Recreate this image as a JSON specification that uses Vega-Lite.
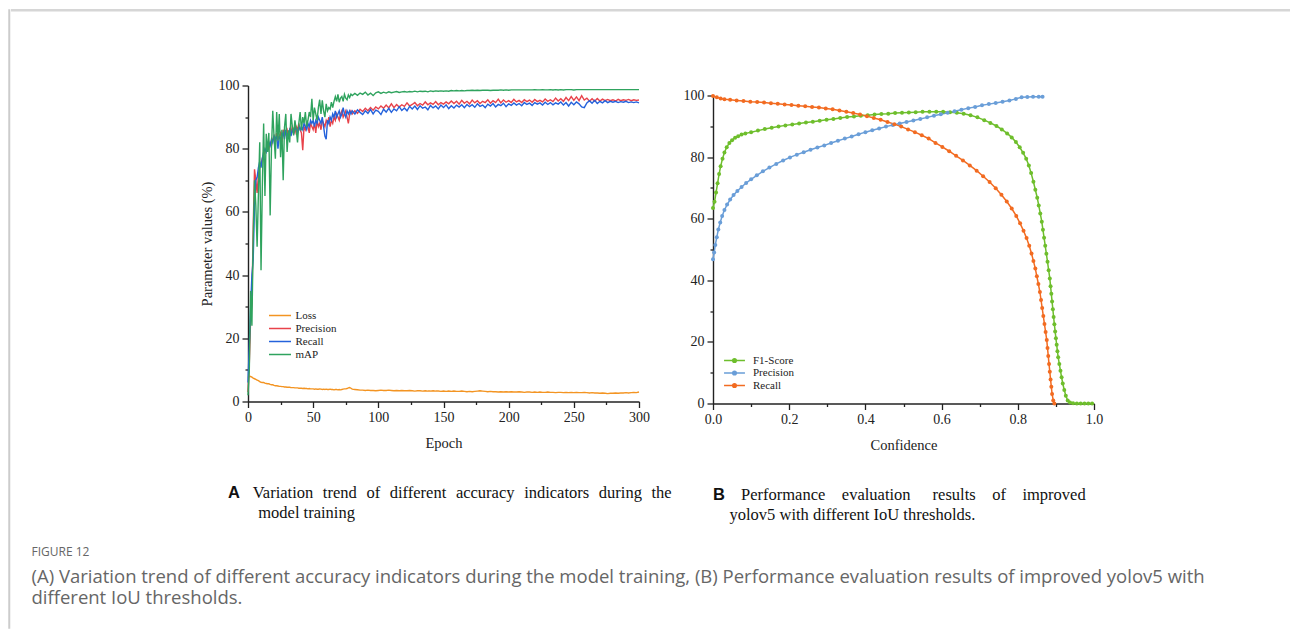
{
"$schema":"https://vega.github.io/schema/vega-lite/v6.json",
"background":"white",
"padding":{"left":8,"top":9,"right":0,"bottom":0},
"spacing":0,
"resolve":{"scale":{"color":"independent"},"legend":{"color":"independent"}},
"config":{
 "view":{"stroke":null},
 "axis":{"grid":false,"labelFlush":false,"labelFont":"Liberation Serif","titleFont":"Liberation Serif","labelFontSize":14,"titleFontSize":14.5,"titleFontWeight":"normal","labelColor":"#222","titleColor":"#222","domainColor":"#222","tickColor":"#222","domainWidth":1.4,"tickWidth":1.3,"labelPadding":3},
 "legend":{"padding":0,"labelFont":"Liberation Serif","labelFontSize":11,"labelColor":"#222","rowPadding":1}
},
"hconcat":[
{"width":0.5,"height":618,"view":{"stroke":"#cccccc","strokeWidth":1.5},"data":{"values":[]},"mark":"point","encoding":{}},
{
"spacing":66.5,
"resolve":{"scale":{"color":"independent"},"legend":{"color":"independent"}},
"vconcat":[
{"width":1277,"height":0.5,"view":{"stroke":"#d6d6d6","strokeWidth":2},"data":{"values":[]},"mark":"point","encoding":{}},
{
"spacing":11,
"resolve":{"scale":{"color":"independent"},"legend":{"color":"independent"}},
"title":{"text":"FIGURE 12","subtitle":["(A) Variation trend of different accuracy indicators during the model training, (B) Performance evaluation results of improved yolov5 with","different IoU thresholds."],"orient":"bottom","anchor":"start","frame":"bounds","dx":20,"offset":23,"font":"Open Sans","fontSize":12,"fontWeight":"normal","color":"#666","subtitleFont":"Open Sans","subtitleFontSize":18.5,"subtitleColor":"#666","subtitleLineHeight":21,"subtitlePadding":9},
"hconcat":[
{"width":175,"height":1,"view":{"stroke":"transparent"},"data":{"values":[]},"mark":"point","encoding":{}},
{
 "width":391,"height":316,
 "title":{"text":"A","subtitle":["\u200b\u2003\u2002Variation\u00a0\u2004trend\u00a0\u2004of\u00a0\u2004different\u00a0\u2004accuracy\u00a0\u2004indicators\u00a0\u2004during\u00a0\u2004the","\u200b\u2003\u2002\u2004model training"],"orient":"bottom","anchor":"start","frame":"group","dx":-20,"offset":35,"font":"Liberation Sans","fontSize":16.5,"fontWeight":"bold","color":"#111","subtitleFont":"Liberation Serif","subtitleFontSize":16.5,"subtitleColor":"#111","subtitleLineHeight":20,"subtitlePadding":-16.5},
 "data":{"values":[
{"e":0,"Loss":7.6,"Precision":3,"Recall":6,"mAP":2},
{"e":1,"Loss":8.0,"Precision":12,"Recall":18,"mAP":10},
{"e":2,"Loss":7.9,"Precision":26,"Recall":30,"mAP":35},
{"e":3,"Loss":7.7,"Precision":31,"Recall":40,"mAP":24},
{"e":4,"Loss":7.4,"Precision":55,"Recall":45,"mAP":52},
{"e":5,"Loss":7.2,"Precision":73.5,"Recall":62,"mAP":70},
{"e":6,"Loss":7.0,"Precision":70,"Recall":70,"mAP":62},
{"e":7,"Loss":6.8,"Precision":66,"Recall":71,"mAP":49},
{"e":8,"Loss":6.6,"Precision":72,"Recall":74,"mAP":66},
{"e":9,"Loss":6.3,"Precision":74,"Recall":76,"mAP":82},
{"e":10,"Loss":6.1,"Precision":75,"Recall":74,"mAP":41.5},
{"e":11,"Loss":6.0,"Precision":77,"Recall":77,"mAP":68},
{"e":12,"Loss":6.0,"Precision":78,"Recall":79,"mAP":88},
{"e":13,"Loss":5.8,"Precision":79,"Recall":80,"mAP":65},
{"e":14,"Loss":5.7,"Precision":80,"Recall":79,"mAP":84.7},
{"e":15,"Loss":5.6,"Precision":81,"Recall":81,"mAP":79},
{"e":16,"Loss":5.6,"Precision":80,"Recall":82,"mAP":85},
{"e":17,"Loss":5.4,"Precision":82,"Recall":81,"mAP":58.9},
{"e":18,"Loss":5.3,"Precision":81,"Recall":83,"mAP":80},
{"e":19,"Loss":5.3,"Precision":83,"Recall":82,"mAP":92},
{"e":20,"Loss":5.1,"Precision":84,"Recall":84,"mAP":83.6},
{"e":21,"Loss":5.0,"Precision":82,"Recall":83,"mAP":76.8},
{"e":22,"Loss":5.0,"Precision":85,"Recall":84,"mAP":91.6},
{"e":23,"Loss":4.9,"Precision":83,"Recall":80,"mAP":82.6},
{"e":24,"Loss":4.8,"Precision":84,"Recall":84,"mAP":91},
{"e":25,"Loss":4.8,"Precision":85,"Recall":83,"mAP":77.3},
{"e":26,"Loss":4.7,"Precision":82,"Recall":84,"mAP":86},
{"e":27,"Loss":4.7,"Precision":86,"Recall":85,"mAP":70},
{"e":28,"Loss":4.6,"Precision":84,"Recall":83,"mAP":86.8},
{"e":29,"Loss":4.6,"Precision":85,"Recall":86,"mAP":91},
{"e":30,"Loss":4.5,"Precision":86,"Recall":84,"mAP":79},
{"e":31,"Loss":4.5,"Precision":84,"Recall":85,"mAP":85.8},
{"e":32,"Loss":4.5,"Precision":86,"Recall":86,"mAP":82},
{"e":33,"Loss":4.4,"Precision":85,"Recall":84,"mAP":91},
{"e":34,"Loss":4.4,"Precision":87,"Recall":86,"mAP":87},
{"e":35,"Loss":4.4,"Precision":86,"Recall":85,"mAP":84.2},
{"e":36,"Loss":4.3,"Precision":85,"Recall":87,"mAP":89},
{"e":37,"Loss":4.3,"Precision":87,"Recall":86,"mAP":86},
{"e":38,"Loss":4.3,"Precision":86,"Recall":85,"mAP":82},
{"e":39,"Loss":4.2,"Precision":88,"Recall":87,"mAP":88},
{"e":40,"Loss":4.2,"Precision":86,"Recall":86,"mAP":91.6},
{"e":41,"Loss":4.2,"Precision":85,"Recall":87,"mAP":85.8},
{"e":42,"Loss":4.1,"Precision":79.5,"Recall":86,"mAP":90},
{"e":43,"Loss":4.2,"Precision":87,"Recall":88,"mAP":88},
{"e":44,"Loss":4.1,"Precision":86,"Recall":87,"mAP":91.6},
{"e":45,"Loss":4.1,"Precision":88,"Recall":86,"mAP":87},
{"e":46,"Loss":4.0,"Precision":87,"Recall":88,"mAP":89},
{"e":47,"Loss":4.1,"Precision":85,"Recall":87,"mAP":91.6},
{"e":48,"Loss":4.0,"Precision":88,"Recall":89,"mAP":90},
{"e":49,"Loss":4.0,"Precision":87,"Recall":88,"mAP":95.8},
{"e":50,"Loss":4.0,"Precision":86,"Recall":89,"mAP":89},
{"e":51,"Loss":3.9,"Precision":88,"Recall":87,"mAP":93},
{"e":52,"Loss":4.0,"Precision":85,"Recall":89,"mAP":91},
{"e":53,"Loss":3.9,"Precision":89,"Recall":88,"mAP":89},
{"e":54,"Loss":3.9,"Precision":87,"Recall":90,"mAP":93},
{"e":55,"Loss":4.0,"Precision":88,"Recall":89,"mAP":95.5},
{"e":56,"Loss":3.9,"Precision":86,"Recall":88,"mAP":91},
{"e":57,"Loss":3.8,"Precision":89,"Recall":90,"mAP":95.3},
{"e":58,"Loss":3.9,"Precision":88,"Recall":87,"mAP":92},
{"e":59,"Loss":3.8,"Precision":87,"Recall":84,"mAP":90},
{"e":60,"Loss":3.9,"Precision":89,"Recall":83,"mAP":94.2},
{"e":61,"Loss":3.8,"Precision":88,"Recall":89,"mAP":92},
{"e":62,"Loss":3.8,"Precision":90,"Recall":88,"mAP":93},
{"e":63,"Loss":3.9,"Precision":87,"Recall":90,"mAP":92.5},
{"e":64,"Loss":3.8,"Precision":89,"Recall":89,"mAP":94.7},
{"e":65,"Loss":3.8,"Precision":88,"Recall":91,"mAP":93},
{"e":66,"Loss":3.7,"Precision":90,"Recall":90,"mAP":95},
{"e":67,"Loss":3.8,"Precision":89,"Recall":92,"mAP":96.5},
{"e":68,"Loss":3.8,"Precision":91,"Recall":90,"mAP":95},
{"e":69,"Loss":3.7,"Precision":90,"Recall":91,"mAP":97.2},
{"e":70,"Loss":3.8,"Precision":89,"Recall":92,"mAP":94.7},
{"e":71,"Loss":3.7,"Precision":91,"Recall":90,"mAP":96},
{"e":72,"Loss":3.8,"Precision":92,"Recall":91,"mAP":96.5},
{"e":73,"Loss":3.9,"Precision":90,"Recall":93,"mAP":95},
{"e":74,"Loss":4.0,"Precision":91,"Recall":91,"mAP":97.2},
{"e":75,"Loss":4.0,"Precision":92,"Recall":90,"mAP":96},
{"e":76,"Loss":4.1,"Precision":90,"Recall":92,"mAP":95.5},
{"e":77,"Loss":4.3,"Precision":88,"Recall":91,"mAP":97},
{"e":78,"Loss":4.4,"Precision":91,"Recall":92,"mAP":96.2},
{"e":79,"Loss":4.2,"Precision":92,"Recall":91,"mAP":97.3},
{"e":80,"Loss":3.9,"Precision":91,"Recall":92,"mAP":96.8},
{"e":82,"Loss":3.8,"Precision":92.0,"Recall":91.0,"mAP":97.5},
{"e":84,"Loss":3.7,"Precision":91.2,"Recall":92.3,"mAP":96.9},
{"e":86,"Loss":3.6,"Precision":92.5,"Recall":91.5,"mAP":97.6},
{"e":88,"Loss":3.6,"Precision":91.8,"Recall":90.8,"mAP":97.2},
{"e":90,"Loss":3.5,"Precision":92.8,"Recall":92.0,"mAP":97.9},
{"e":92,"Loss":3.6,"Precision":92.0,"Recall":91.2,"mAP":97.0},
{"e":94,"Loss":3.5,"Precision":93.0,"Recall":92.4,"mAP":97.6},
{"e":96,"Loss":3.5,"Precision":92.2,"Recall":91.0,"mAP":96.8},
{"e":98,"Loss":3.4,"Precision":93.2,"Recall":92.2,"mAP":97.7},
{"e":100,"Loss":3.5,"Precision":92.6,"Recall":91.8,"mAP":98.0},
{"e":102,"Loss":3.6,"Precision":93.5,"Recall":90.8,"mAP":97.5},
{"e":104,"Loss":3.5,"Precision":92.8,"Recall":92.5,"mAP":97.9},
{"e":106,"Loss":3.5,"Precision":93.8,"Recall":91.6,"mAP":97.6},
{"e":108,"Loss":3.6,"Precision":92.9,"Recall":92.8,"mAP":98.0},
{"e":110,"Loss":3.5,"Precision":94.2,"Recall":91.5,"mAP":97.7},
{"e":112,"Loss":3.4,"Precision":93.0,"Recall":92.6,"mAP":97.9},
{"e":114,"Loss":3.5,"Precision":94.0,"Recall":92.0,"mAP":98.1},
{"e":116,"Loss":3.4,"Precision":93.2,"Recall":93.3,"mAP":97.8},
{"e":118,"Loss":3.5,"Precision":93.9,"Recall":92.1,"mAP":98.0},
{"e":120,"Loss":3.4,"Precision":93.4,"Recall":92.9,"mAP":98.1},
{"e":122,"Loss":3.4,"Precision":94.5,"Recall":92.0,"mAP":97.9},
{"e":124,"Loss":3.5,"Precision":93.5,"Recall":93.4,"mAP":98.1},
{"e":126,"Loss":3.4,"Precision":94.0,"Recall":92.6,"mAP":98.0},
{"e":128,"Loss":3.3,"Precision":94.6,"Recall":93.5,"mAP":98.2},
{"e":130,"Loss":3.4,"Precision":93.6,"Recall":92.4,"mAP":98.0},
{"e":132,"Loss":3.4,"Precision":94.3,"Recall":93.6,"mAP":98.2},
{"e":134,"Loss":3.3,"Precision":93.8,"Recall":92.8,"mAP":98.1},
{"e":136,"Loss":3.4,"Precision":94.8,"Recall":93.2,"mAP":98.2},
{"e":138,"Loss":3.3,"Precision":93.9,"Recall":92.3,"mAP":98.0},
{"e":140,"Loss":3.3,"Precision":94.5,"Recall":93.7,"mAP":98.3},
{"e":142,"Loss":3.4,"Precision":94.0,"Recall":92.9,"mAP":98.1},
{"e":144,"Loss":3.3,"Precision":94.9,"Recall":93.5,"mAP":98.3},
{"e":146,"Loss":3.3,"Precision":93.9,"Recall":92.6,"mAP":98.2},
{"e":148,"Loss":3.2,"Precision":94.6,"Recall":93.8,"mAP":98.3},
{"e":150,"Loss":3.3,"Precision":94.1,"Recall":93.0,"mAP":98.2},
{"e":152,"Loss":3.2,"Precision":94.8,"Recall":93.9,"mAP":98.3},
{"e":154,"Loss":3.3,"Precision":94.2,"Recall":92.7,"mAP":98.2},
{"e":156,"Loss":3.2,"Precision":95.1,"Recall":93.6,"mAP":98.4},
{"e":158,"Loss":3.3,"Precision":94.3,"Recall":92.9,"mAP":98.3},
{"e":160,"Loss":3.2,"Precision":95.0,"Recall":93.8,"mAP":98.4},
{"e":162,"Loss":3.2,"Precision":94.1,"Recall":93.2,"mAP":98.3},
{"e":164,"Loss":3.3,"Precision":95.3,"Recall":93.9,"mAP":98.4},
{"e":166,"Loss":3.2,"Precision":94.4,"Recall":93.0,"mAP":98.3},
{"e":168,"Loss":3.1,"Precision":95.0,"Recall":94.0,"mAP":98.4},
{"e":170,"Loss":3.2,"Precision":94.2,"Recall":93.3,"mAP":98.4},
{"e":172,"Loss":3.1,"Precision":95.4,"Recall":93.9,"mAP":98.5},
{"e":174,"Loss":3.2,"Precision":94.5,"Recall":93.1,"mAP":98.4},
{"e":176,"Loss":3.3,"Precision":95.2,"Recall":94.2,"mAP":98.5},
{"e":178,"Loss":3.4,"Precision":94.3,"Recall":93.4,"mAP":98.4},
{"e":180,"Loss":3.3,"Precision":95.0,"Recall":93.8,"mAP":98.5},
{"e":182,"Loss":3.2,"Precision":94.6,"Recall":93.0,"mAP":98.5},
{"e":184,"Loss":3.1,"Precision":95.5,"Recall":94.1,"mAP":98.5},
{"e":186,"Loss":3.2,"Precision":94.4,"Recall":93.5,"mAP":98.4},
{"e":188,"Loss":3.1,"Precision":95.2,"Recall":94.3,"mAP":98.5},
{"e":190,"Loss":3.1,"Precision":94.6,"Recall":93.2,"mAP":98.5},
{"e":192,"Loss":3.0,"Precision":95.7,"Recall":94.0,"mAP":98.5},
{"e":194,"Loss":3.1,"Precision":94.5,"Recall":93.6,"mAP":98.6},
{"e":196,"Loss":3.0,"Precision":95.4,"Recall":94.4,"mAP":98.5},
{"e":198,"Loss":3.1,"Precision":94.7,"Recall":93.3,"mAP":98.6},
{"e":200,"Loss":3.0,"Precision":95.2,"Recall":94.2,"mAP":98.5},
{"e":202,"Loss":3.1,"Precision":94.6,"Recall":93.7,"mAP":98.6},
{"e":204,"Loss":3.0,"Precision":95.6,"Recall":94.5,"mAP":98.6},
{"e":206,"Loss":3.0,"Precision":94.8,"Recall":93.8,"mAP":98.6},
{"e":208,"Loss":3.1,"Precision":95.3,"Recall":94.3,"mAP":98.6},
{"e":210,"Loss":3.0,"Precision":94.6,"Recall":93.6,"mAP":98.6},
{"e":212,"Loss":2.9,"Precision":95.5,"Recall":94.6,"mAP":98.6},
{"e":214,"Loss":3.0,"Precision":94.9,"Recall":94.0,"mAP":98.6},
{"e":216,"Loss":3.0,"Precision":95.4,"Recall":94.4,"mAP":98.6},
{"e":218,"Loss":2.9,"Precision":94.7,"Recall":93.7,"mAP":98.6},
{"e":220,"Loss":3.0,"Precision":95.6,"Recall":94.6,"mAP":98.7},
{"e":222,"Loss":2.9,"Precision":94.9,"Recall":94.1,"mAP":98.6},
{"e":224,"Loss":3.0,"Precision":95.3,"Recall":94.5,"mAP":98.6},
{"e":226,"Loss":2.9,"Precision":94.8,"Recall":93.8,"mAP":98.7},
{"e":228,"Loss":2.9,"Precision":95.7,"Recall":94.7,"mAP":98.6},
{"e":230,"Loss":3.0,"Precision":95.0,"Recall":94.0,"mAP":98.6},
{"e":232,"Loss":2.9,"Precision":95.5,"Recall":94.6,"mAP":98.7},
{"e":234,"Loss":2.9,"Precision":94.9,"Recall":93.9,"mAP":98.6},
{"e":236,"Loss":2.8,"Precision":96.0,"Recall":94.5,"mAP":98.7},
{"e":238,"Loss":2.9,"Precision":95.1,"Recall":94.1,"mAP":98.6},
{"e":240,"Loss":2.9,"Precision":95.8,"Recall":94.8,"mAP":98.7},
{"e":242,"Loss":2.8,"Precision":95.0,"Recall":93.8,"mAP":98.6},
{"e":244,"Loss":2.9,"Precision":96.2,"Recall":94.6,"mAP":98.7},
{"e":246,"Loss":2.8,"Precision":95.2,"Recall":93.5,"mAP":98.7},
{"e":248,"Loss":2.9,"Precision":96.5,"Recall":94.7,"mAP":98.7},
{"e":250,"Loss":2.8,"Precision":95.3,"Recall":93.9,"mAP":98.6},
{"e":252,"Loss":2.9,"Precision":96.4,"Recall":94.8,"mAP":98.7},
{"e":254,"Loss":2.8,"Precision":95.2,"Recall":94.2,"mAP":98.7},
{"e":256,"Loss":2.8,"Precision":96.8,"Recall":93.2,"mAP":98.7},
{"e":258,"Loss":2.9,"Precision":95.4,"Recall":93.0,"mAP":98.7},
{"e":260,"Loss":2.8,"Precision":96.0,"Recall":94.5,"mAP":98.7},
{"e":262,"Loss":2.7,"Precision":95.0,"Recall":95.2,"mAP":98.7},
{"e":264,"Loss":2.8,"Precision":95.8,"Recall":94.4,"mAP":98.7},
{"e":266,"Loss":2.7,"Precision":95.0,"Recall":95.3,"mAP":98.7},
{"e":268,"Loss":2.7,"Precision":95.9,"Recall":94.3,"mAP":98.7},
{"e":270,"Loss":2.6,"Precision":95.1,"Recall":95.0,"mAP":98.7},
{"e":272,"Loss":2.7,"Precision":95.7,"Recall":94.5,"mAP":98.7},
{"e":274,"Loss":2.6,"Precision":95.2,"Recall":95.2,"mAP":98.7},
{"e":276,"Loss":2.5,"Precision":95.6,"Recall":94.6,"mAP":98.7},
{"e":278,"Loss":2.6,"Precision":95.2,"Recall":95.0,"mAP":98.7},
{"e":280,"Loss":2.6,"Precision":95.5,"Recall":94.7,"mAP":98.7},
{"e":282,"Loss":2.7,"Precision":95.1,"Recall":95.0,"mAP":98.7},
{"e":284,"Loss":2.6,"Precision":95.6,"Recall":94.6,"mAP":98.7},
{"e":286,"Loss":2.7,"Precision":95.2,"Recall":94.9,"mAP":98.7},
{"e":288,"Loss":2.7,"Precision":95.5,"Recall":94.7,"mAP":98.7},
{"e":290,"Loss":2.8,"Precision":95.3,"Recall":95.0,"mAP":98.7},
{"e":292,"Loss":2.7,"Precision":95.6,"Recall":94.6,"mAP":98.7},
{"e":294,"Loss":2.8,"Precision":95.2,"Recall":94.8,"mAP":98.7},
{"e":296,"Loss":2.9,"Precision":95.5,"Recall":94.6,"mAP":98.7},
{"e":298,"Loss":2.8,"Precision":95.3,"Recall":94.8,"mAP":98.7},
{"e":300,"Loss":3.0,"Precision":95.4,"Recall":94.5,"mAP":98.7}
 ]},
 "transform":[{"fold":["Loss","Precision","Recall","mAP"],"as":["s","v"]}],
 "mark":{"type":"line","strokeWidth":1.4},
 "encoding":{
  "x":{"field":"e","type":"quantitative","scale":{"domain":[0,300],"nice":false},"axis":{"title":"Epoch","values":[0,25,50,75,100,125,150,175,200,225,250,275,300],"labelExpr":"datum.value % 50 === 0 ? datum.label : ''","tickSize":{"condition":{"test":"datum.value % 50 === 0","value":6},"value":3},"titlePadding":12}},
  "y":{"field":"v","type":"quantitative","scale":{"domain":[0,100],"nice":false},"axis":{"title":"Parameter values (%)","values":[0,10,20,30,40,50,60,70,80,90,100],"labelExpr":"datum.value % 20 === 0 ? datum.label : ''","tickSize":{"condition":{"test":"datum.value % 20 === 0","value":6},"value":3},"titlePadding":4}},
  "color":{"field":"s","type":"nominal","scale":{"domain":["Loss","Precision","Recall","mAP"],"range":["#F39422","#E8424A","#2462DB","#2FA35E"]},"legend":{"title":null,"orient":"none","legendX":25.5,"legendY":223.5,"symbolType":"M-2,0L2,0","symbolSize":121,"symbolStrokeWidth":1.5,"labelOffset":9}}
 }
},
{
 "spacing":1,
 "vconcat":[
 {"width":1,"height":1,"view":{"stroke":"transparent"},"data":{"values":[]},"mark":"point","encoding":{}},
 {
 "width":381,"height":308,
 "title":{"text":"B","subtitle":["\u200b\u2003\u2002\u2009Performance\u2003evaluation\u2003\u2004results\u2003of\u2003improved","\u200b\u2003yolov5 with different IoU thresholds."],"orient":"bottom","anchor":"start","frame":"group","dx":0,"offset":35,"font":"Liberation Sans","fontSize":16.5,"fontWeight":"bold","color":"#111","subtitleFont":"Liberation Serif","subtitleFontSize":16.5,"subtitleColor":"#111","subtitleLineHeight":20,"subtitlePadding":-16.5},
 "data":{"values":[
{"s":"F1-Score","c":0.000,"v":63.5},{"s":"F1-Score","c":0.004,"v":65.5},{"s":"F1-Score","c":0.008,"v":68.5},{"s":"F1-Score","c":0.012,"v":71.5},{"s":"F1-Score","c":0.016,"v":74.5},{"s":"F1-Score","c":0.020,"v":77.0},{"s":"F1-Score","c":0.025,"v":79.5},{"s":"F1-Score","c":0.030,"v":81.5},{"s":"F1-Score","c":0.036,"v":83.2},{"s":"F1-Score","c":0.043,"v":84.6},{"s":"F1-Score","c":0.050,"v":85.5},{"s":"F1-Score","c":0.058,"v":86.3},{"s":"F1-Score","c":0.066,"v":86.8},{"s":"F1-Score","c":0.075,"v":87.3},{"s":"F1-Score","c":0.085,"v":87.7},{"s":"F1-Score","c":0.100,"v":88.1},{"s":"F1-Score","c":0.118,"v":88.6},{"s":"F1-Score","c":0.136,"v":89.1},{"s":"F1-Score","c":0.154,"v":89.5},{"s":"F1-Score","c":0.172,"v":89.9},{"s":"F1-Score","c":0.190,"v":90.3},{"s":"F1-Score","c":0.208,"v":90.6},{"s":"F1-Score","c":0.226,"v":90.9},{"s":"F1-Score","c":0.244,"v":91.2},{"s":"F1-Score","c":0.262,"v":91.5},{"s":"F1-Score","c":0.280,"v":91.8},{"s":"F1-Score","c":0.298,"v":92.1},{"s":"F1-Score","c":0.316,"v":92.4},{"s":"F1-Score","c":0.334,"v":92.7},{"s":"F1-Score","c":0.352,"v":93.0},{"s":"F1-Score","c":0.370,"v":93.2},{"s":"F1-Score","c":0.388,"v":93.4},{"s":"F1-Score","c":0.406,"v":93.6},{"s":"F1-Score","c":0.424,"v":93.8},{"s":"F1-Score","c":0.442,"v":94.0},{"s":"F1-Score","c":0.460,"v":94.1},{"s":"F1-Score","c":0.478,"v":94.3},{"s":"F1-Score","c":0.496,"v":94.4},{"s":"F1-Score","c":0.514,"v":94.5},{"s":"F1-Score","c":0.532,"v":94.6},{"s":"F1-Score","c":0.550,"v":94.7},{"s":"F1-Score","c":0.568,"v":94.7},{"s":"F1-Score","c":0.586,"v":94.7},{"s":"F1-Score","c":0.604,"v":94.7},{"s":"F1-Score","c":0.622,"v":94.6},{"s":"F1-Score","c":0.640,"v":94.4},{"s":"F1-Score","c":0.658,"v":94.1},{"s":"F1-Score","c":0.676,"v":93.6},{"s":"F1-Score","c":0.694,"v":92.9},{"s":"F1-Score","c":0.712,"v":92.0},{"s":"F1-Score","c":0.728,"v":91.1},{"s":"F1-Score","c":0.744,"v":90.1},{"s":"F1-Score","c":0.758,"v":89.0},{"s":"F1-Score","c":0.772,"v":87.7},{"s":"F1-Score","c":0.784,"v":86.4},{"s":"F1-Score","c":0.795,"v":84.9},{"s":"F1-Score","c":0.805,"v":83.2},{"s":"F1-Score","c":0.814,"v":81.4},{"s":"F1-Score","c":0.822,"v":79.5},{"s":"F1-Score","c":0.829,"v":77.3},{"s":"F1-Score","c":0.835,"v":74.8},{"s":"F1-Score","c":0.841,"v":72.0},{"s":"F1-Score","c":0.846,"v":69.4},{"s":"F1-Score","c":0.851,"v":66.8},{"s":"F1-Score","c":0.855,"v":64.3},{"s":"F1-Score","c":0.859,"v":61.7},{"s":"F1-Score","c":0.863,"v":59.0},{"s":"F1-Score","c":0.866,"v":56.4},{"s":"F1-Score","c":0.869,"v":53.8},{"s":"F1-Score","c":0.872,"v":51.2},{"s":"F1-Score","c":0.875,"v":48.6},{"s":"F1-Score","c":0.878,"v":46.0},{"s":"F1-Score","c":0.881,"v":43.3},{"s":"F1-Score","c":0.884,"v":40.6},{"s":"F1-Score","c":0.886,"v":38.1},{"s":"F1-Score","c":0.888,"v":35.6},{"s":"F1-Score","c":0.890,"v":33.1},{"s":"F1-Score","c":0.892,"v":30.6},{"s":"F1-Score","c":0.894,"v":28.1},{"s":"F1-Score","c":0.896,"v":25.7},{"s":"F1-Score","c":0.898,"v":23.4},{"s":"F1-Score","c":0.900,"v":21.2},{"s":"F1-Score","c":0.902,"v":19.1},{"s":"F1-Score","c":0.904,"v":17.0},{"s":"F1-Score","c":0.906,"v":15.0},{"s":"F1-Score","c":0.909,"v":12.8},{"s":"F1-Score","c":0.912,"v":10.6},{"s":"F1-Score","c":0.915,"v":8.5},{"s":"F1-Score","c":0.918,"v":6.5},{"s":"F1-Score","c":0.922,"v":4.4},{"s":"F1-Score","c":0.926,"v":2.5},{"s":"F1-Score","c":0.931,"v":1.0},{"s":"F1-Score","c":0.937,"v":0.3},{"s":"F1-Score","c":0.945,"v":0.1},{"s":"F1-Score","c":0.955,"v":0},{"s":"F1-Score","c":0.965,"v":0},{"s":"F1-Score","c":0.975,"v":0},{"s":"F1-Score","c":0.985,"v":0},{"s":"F1-Score","c":0.995,"v":0},
{"s":"Precision","c":0.000,"v":46.8},{"s":"Precision","c":0.003,"v":49.0},{"s":"Precision","c":0.006,"v":51.5},{"s":"Precision","c":0.010,"v":54.0},{"s":"Precision","c":0.014,"v":56.5},{"s":"Precision","c":0.019,"v":58.8},{"s":"Precision","c":0.024,"v":60.9},{"s":"Precision","c":0.030,"v":62.8},{"s":"Precision","c":0.037,"v":64.6},{"s":"Precision","c":0.045,"v":66.2},{"s":"Precision","c":0.054,"v":67.7},{"s":"Precision","c":0.064,"v":69.0},{"s":"Precision","c":0.075,"v":70.3},{"s":"Precision","c":0.087,"v":71.6},{"s":"Precision","c":0.100,"v":72.8},{"s":"Precision","c":0.115,"v":74.1},{"s":"Precision","c":0.131,"v":75.4},{"s":"Precision","c":0.148,"v":76.6},{"s":"Precision","c":0.166,"v":77.8},{"s":"Precision","c":0.184,"v":78.9},{"s":"Precision","c":0.202,"v":79.9},{"s":"Precision","c":0.220,"v":80.8},{"s":"Precision","c":0.238,"v":81.6},{"s":"Precision","c":0.256,"v":82.4},{"s":"Precision","c":0.274,"v":83.1},{"s":"Precision","c":0.292,"v":83.8},{"s":"Precision","c":0.310,"v":84.6},{"s":"Precision","c":0.328,"v":85.3},{"s":"Precision","c":0.346,"v":86.0},{"s":"Precision","c":0.364,"v":86.7},{"s":"Precision","c":0.382,"v":87.4},{"s":"Precision","c":0.400,"v":88.1},{"s":"Precision","c":0.418,"v":88.7},{"s":"Precision","c":0.436,"v":89.3},{"s":"Precision","c":0.454,"v":89.9},{"s":"Precision","c":0.472,"v":90.4},{"s":"Precision","c":0.490,"v":90.9},{"s":"Precision","c":0.508,"v":91.4},{"s":"Precision","c":0.526,"v":91.9},{"s":"Precision","c":0.544,"v":92.4},{"s":"Precision","c":0.562,"v":92.9},{"s":"Precision","c":0.580,"v":93.4},{"s":"Precision","c":0.598,"v":93.9},{"s":"Precision","c":0.616,"v":94.4},{"s":"Precision","c":0.634,"v":94.9},{"s":"Precision","c":0.652,"v":95.4},{"s":"Precision","c":0.670,"v":95.9},{"s":"Precision","c":0.688,"v":96.3},{"s":"Precision","c":0.706,"v":96.8},{"s":"Precision","c":0.724,"v":97.2},{"s":"Precision","c":0.742,"v":97.6},{"s":"Precision","c":0.760,"v":98.0},{"s":"Precision","c":0.778,"v":98.4},{"s":"Precision","c":0.795,"v":98.9},{"s":"Precision","c":0.810,"v":99.4},{"s":"Precision","c":0.825,"v":99.5},{"s":"Precision","c":0.840,"v":99.6},{"s":"Precision","c":0.855,"v":99.6},{"s":"Precision","c":0.865,"v":99.6},
{"s":"Recall","c":0.000,"v":99.8},{"s":"Recall","c":0.010,"v":99.4},{"s":"Recall","c":0.020,"v":99.0},{"s":"Recall","c":0.030,"v":98.8},{"s":"Recall","c":0.045,"v":98.6},{"s":"Recall","c":0.062,"v":98.4},{"s":"Recall","c":0.080,"v":98.2},{"s":"Recall","c":0.098,"v":98.0},{"s":"Recall","c":0.116,"v":97.9},{"s":"Recall","c":0.134,"v":97.7},{"s":"Recall","c":0.152,"v":97.5},{"s":"Recall","c":0.170,"v":97.3},{"s":"Recall","c":0.188,"v":97.1},{"s":"Recall","c":0.206,"v":96.9},{"s":"Recall","c":0.224,"v":96.7},{"s":"Recall","c":0.242,"v":96.5},{"s":"Recall","c":0.260,"v":96.3},{"s":"Recall","c":0.278,"v":96.1},{"s":"Recall","c":0.296,"v":95.8},{"s":"Recall","c":0.314,"v":95.5},{"s":"Recall","c":0.332,"v":95.1},{"s":"Recall","c":0.350,"v":94.7},{"s":"Recall","c":0.368,"v":94.3},{"s":"Recall","c":0.386,"v":93.8},{"s":"Recall","c":0.404,"v":93.3},{"s":"Recall","c":0.422,"v":92.7},{"s":"Recall","c":0.440,"v":92.1},{"s":"Recall","c":0.458,"v":91.4},{"s":"Recall","c":0.476,"v":90.7},{"s":"Recall","c":0.494,"v":89.9},{"s":"Recall","c":0.512,"v":89.0},{"s":"Recall","c":0.530,"v":88.1},{"s":"Recall","c":0.548,"v":87.1},{"s":"Recall","c":0.566,"v":86.0},{"s":"Recall","c":0.584,"v":84.6},{"s":"Recall","c":0.602,"v":83.3},{"s":"Recall","c":0.620,"v":81.9},{"s":"Recall","c":0.638,"v":80.4},{"s":"Recall","c":0.656,"v":78.9},{"s":"Recall","c":0.674,"v":77.3},{"s":"Recall","c":0.692,"v":75.6},{"s":"Recall","c":0.709,"v":73.8},{"s":"Recall","c":0.726,"v":71.9},{"s":"Recall","c":0.742,"v":69.9},{"s":"Recall","c":0.757,"v":67.8},{"s":"Recall","c":0.771,"v":65.6},{"s":"Recall","c":0.784,"v":63.3},{"s":"Recall","c":0.796,"v":60.9},{"s":"Recall","c":0.806,"v":58.5},{"s":"Recall","c":0.815,"v":56.1},{"s":"Recall","c":0.823,"v":53.7},{"s":"Recall","c":0.830,"v":51.2},{"s":"Recall","c":0.836,"v":48.7},{"s":"Recall","c":0.841,"v":46.3},{"s":"Recall","c":0.846,"v":43.8},{"s":"Recall","c":0.850,"v":41.3},{"s":"Recall","c":0.854,"v":38.8},{"s":"Recall","c":0.858,"v":36.2},{"s":"Recall","c":0.861,"v":33.6},{"s":"Recall","c":0.864,"v":31.0},{"s":"Recall","c":0.867,"v":28.4},{"s":"Recall","c":0.870,"v":25.8},{"s":"Recall","c":0.873,"v":23.2},{"s":"Recall","c":0.876,"v":20.6},{"s":"Recall","c":0.878,"v":18.0},{"s":"Recall","c":0.880,"v":15.4},{"s":"Recall","c":0.882,"v":12.8},{"s":"Recall","c":0.884,"v":10.3},{"s":"Recall","c":0.886,"v":7.8},{"s":"Recall","c":0.888,"v":5.4},{"s":"Recall","c":0.890,"v":3.1},{"s":"Recall","c":0.893,"v":1.0},{"s":"Recall","c":0.896,"v":0}
 ]},
 "encoding":{
  "x":{"field":"c","type":"quantitative","scale":{"domain":[0,1],"nice":false},"axis":{"title":"Confidence","values":[0,0.1,0.2,0.3,0.4,0.5,0.6,0.7,0.8,0.9,1],"labelExpr":"round(datum.value*10) % 2 === 0 ? format(datum.value, '.1f') : ''","tickSize":{"condition":{"test":"round(datum.value*10) % 2 === 0","value":6},"value":3},"titlePadding":12}},
  "y":{"field":"v","type":"quantitative","scale":{"domain":[0,100],"nice":false},"axis":{"title":null,"values":[0,10,20,30,40,50,60,70,80,90,100],"labelExpr":"datum.value % 20 === 0 ? datum.label : ''","tickSize":{"condition":{"test":"datum.value % 20 === 0","value":6},"value":3}}},
  "color":{"field":"s","type":"nominal","scale":{"domain":["F1-Score","Precision","Recall"],"range":["#6EBE2C","#6A9ED8","#F26B21"]},"legend":{"title":null,"orient":"none","legendX":15,"legendY":268.5,"symbolType":"M-1.9,0L1.9,0M-0.33,0A0.33,0.33,0,1,0,0.33,0A0.33,0.33,0,1,0,-0.33,0Z","symbolSize":121,"symbolStrokeWidth":1.5,"labelOffset":12,"rowPadding":0.5}}
 },
 "layer":[
  {"mark":{"type":"line","strokeWidth":1.5}},
  {"mark":{"type":"point","filled":true,"size":16,"opacity":1,"strokeWidth":0}}
 ]
 }
 ]
}
]
}
]
}
]
}
